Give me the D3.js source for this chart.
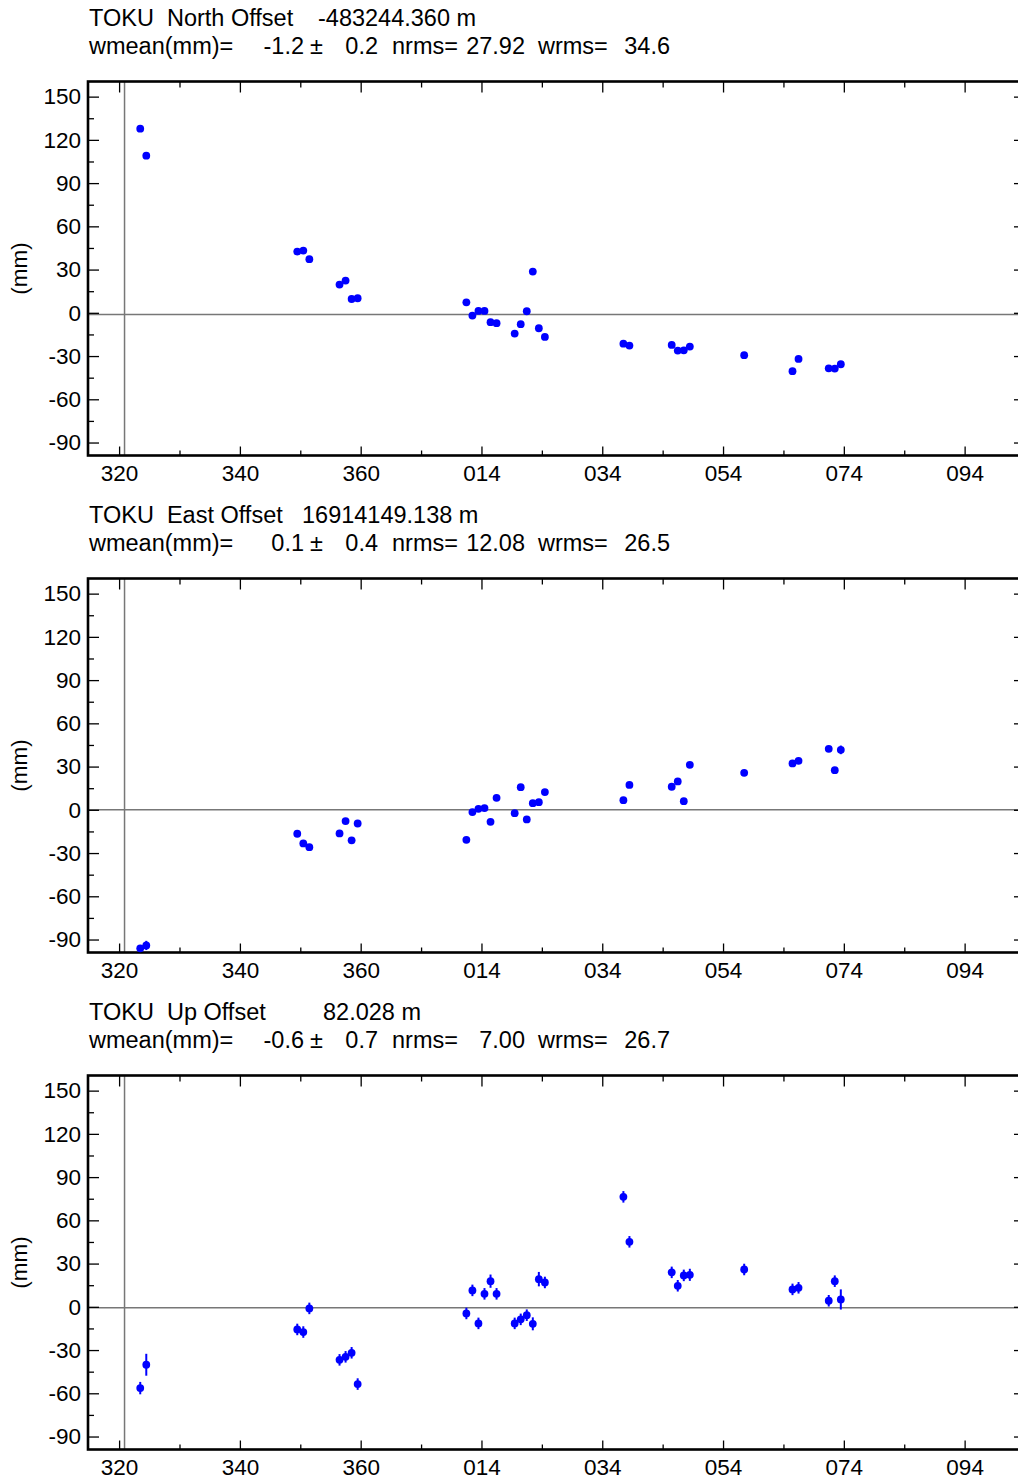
<!DOCTYPE html>
<html>
<head>
<meta charset="utf-8">
<script src="https://cdn.jsdelivr.net/npm/d3@7"></script>
<style>
  html, body { margin: 0; padding: 0; background: #fff; }
  svg { display: block; }
  text { font-family: "Liberation Sans", Arial, Helvetica, sans-serif; fill: #000; }
</style>
</head>
<body>
<svg id="chart" width="1018" height="1482"></svg>
<script>
// ---- data (day of year, continuous past 366 -> next year) ----
const days = [323.5, 324.5, 349.5, 350.5, 351.5, 356.5, 357.5, 358.5, 359.5,
  377.5, 378.5, 379.5, 380.5, 381.5, 382.5, 385.5, 386.5, 387.5, 388.5, 389.5, 390.5,
  403.5, 404.5, 411.5, 412.5, 413.5, 414.5, 423.5, 431.5, 432.5, 437.5, 438.5, 439.5];

const northValues = [127.8, 109.0, 42.5, 43.2, 37.2, 19.6, 22.4, 9.6, 10.1,
  7.3, -1.9, 1.3, 1.3, -6.5, -7.2, -14.4, -7.9, 1.1, 28.6, -10.7, -16.7,
  -21.4, -22.7, -22.3, -26.2, -26.0, -23.4, -29.4, -40.5, -32.0, -38.5, -38.7, -35.7];
const northSigma = [1.5, 1.8, 1.2, 1.2, 1.2, 1.2, 1.2, 1.2, 1.2,
  1.2, 1.2, 1.2, 1.2, 1.2, 1.2, 1.2, 1.2, 1.2, 1.2, 1.2, 1.2,
  1.2, 1.2, 1.2, 1.2, 1.2, 1.2, 1.2, 1.2, 1.2, 1.2, 1.2, 1.8];

const eastValues = [-96.1, -94.1, -16.6, -23.3, -25.9, -16.4, -7.8, -21.2, -9.5,
  -20.8, -1.6, 0.7, 1.2, -8.3, 8.3, -2.3, 15.7, -6.7, 4.6, 5.3, 12.3,
  6.7, 17.3, 16.0, 19.7, 6.0, 31.2, 25.7, 32.2, 34.0, 42.3, 27.5, 41.6];
const eastSigma = [2.0, 3.2, 1.5, 1.5, 1.5, 1.5, 1.5, 1.5, 1.5,
  1.5, 1.5, 1.5, 1.5, 1.5, 1.5, 1.5, 1.5, 1.5, 1.5, 2.2, 1.5,
  1.5, 1.5, 1.5, 1.5, 1.5, 1.5, 1.5, 1.5, 1.8, 1.5, 1.5, 3.0];

const upValues = [-56.4, -40.2, -15.7, -17.5, -1.1, -36.8, -34.7, -31.9, -53.6,
  -4.6, 11.4, -11.5, 9.0, 17.8, 9.0, -11.5, -8.7, -5.8, -11.8, 19.2, 16.9,
  76.3, 45.1, 23.9, 14.6, 21.8, 22.2, 25.9, 12.1, 13.2, 4.2, 17.8, 5.1];
const upSigma = [4.3, 7.6, 4.0, 4.0, 4.0, 4.0, 4.0, 4.0, 4.0,
  4.0, 4.0, 4.0, 4.0, 4.6, 4.0, 4.0, 4.0, 4.0, 4.5, 5.0, 4.0,
  4.0, 4.0, 4.0, 4.0, 4.0, 4.2, 4.0, 4.0, 4.0, 4.0, 4.0, 7.0];

const yMajorTicks = [150, 120, 90, 60, 30, 0, -30, -60, -90];
const yMinorTicks = [135, 105, 75, 45, 15, -15, -45, -75];
const xMajorTicks = [320, 340, 360, 380, 400, 420, 440, 460];
const xTickLabels = ["320", "340", "360", "014", "034", "054", "074", "094"];
const xMinorTicks = [330, 350, 370, 390, 410, 430, 450];

const panelNames = ["TOKU  North Offset", "TOKU  East Offset", "TOKU  Up Offset"];
const panelOffsets = ["-483244.360 m", "16914149.138 m", "82.028 m"];
const wmeans = ["-1.2", "0.1", "-0.6"];
const wmeanErrs = ["0.2", "0.4", "0.7"];
const nrmsVals = ["27.92", "12.08", "7.00"];
const wrmsVals = ["34.6", "26.5", "26.7"];
const wmeanNum = [-1.2, 0.1, -0.6];
const refDay = 320.9;

const series = [
  { values: northValues, sigma: northSigma },
  { values: eastValues, sigma: eastSigma },
  { values: upValues, sigma: upSigma }
];

// ---- layout ----
const svg = d3.select("#chart");
const left = 88, right = 1022;
const panelH = 374, panelStep = 497, firstTop = 81.5;
const offsetX = [318, 302, 323];
const fsT = 23.5;   // header font
const fsA = 22.5;   // axis font

const x = d3.scaleLinear().domain([314.85, 469.5]).range([left, right]);

series.forEach((s, i) => {
  const top = firstTop + i * panelStep;
  const bottom = top + panelH;
  const y = d3.scaleLinear().domain([-99, 160.5]).range([bottom, top]);
  const g = svg.append("g");

  // headers
  const h1 = top - 56;
  const h2 = top - 27.5;
  g.append("text").attr("x", 89).attr("y", h1).attr("font-size", fsT)
    .style("white-space", "pre").text(panelNames[i]);
  g.append("text").attr("x", offsetX[i]).attr("y", h1).attr("font-size", fsT).text(panelOffsets[i]);
  g.append("text").attr("x", 89).attr("y", h2).attr("font-size", fsT).text("wmean(mm)=");
  g.append("text").attr("x", 304).attr("y", h2).attr("font-size", fsT).attr("text-anchor", "end").text(wmeans[i]);
  g.append("text").attr("x", 310).attr("y", h2).attr("font-size", fsT).text("±");
  g.append("text").attr("x", 378).attr("y", h2).attr("font-size", fsT).attr("text-anchor", "end").text(wmeanErrs[i]);
  g.append("text").attr("x", 392).attr("y", h2).attr("font-size", fsT).text("nrms=");
  g.append("text").attr("x", 525).attr("y", h2).attr("font-size", fsT).attr("text-anchor", "end").text(nrmsVals[i]);
  g.append("text").attr("x", 538).attr("y", h2).attr("font-size", fsT).text("wrms=");
  g.append("text").attr("x", 670).attr("y", h2).attr("font-size", fsT).attr("text-anchor", "end").text(wrmsVals[i]);

  // reference lines
  g.append("line").attr("x1", x(refDay)).attr("x2", x(refDay)).attr("y1", top).attr("y2", bottom)
    .attr("stroke", "#777").attr("stroke-width", 1.5);
  g.append("line").attr("x1", left).attr("x2", right).attr("y1", y(wmeanNum[i])).attr("y2", y(wmeanNum[i]))
    .attr("stroke", "#777").attr("stroke-width", 1.5);

  // axes
  const axL = g.append("g").attr("transform", `translate(${left},0)`)
    .call(d3.axisLeft(y).tickValues(yMajorTicks).tickSize(-11).tickPadding(7).tickFormat(d => String(d)));
  axL.selectAll("text").attr("font-size", fsA).attr("font-family", "Liberation Sans, Arial, sans-serif");
  g.append("g").attr("transform", `translate(${left},0)`)
    .call(d3.axisLeft(y).tickValues(yMinorTicks).tickSize(-6).tickFormat(""));
  g.append("g").attr("transform", `translate(${right},0)`)
    .call(d3.axisRight(y).tickValues(yMajorTicks).tickSize(-8).tickFormat(""));

  const axB = g.append("g").attr("transform", `translate(0,${bottom})`)
    .call(d3.axisBottom(x).tickValues(xMajorTicks).tickSize(-9).tickPadding(10)
      .tickFormat((d, k) => xTickLabels[k]));
  axB.selectAll("text").attr("font-size", fsA).attr("font-family", "Liberation Sans, Arial, sans-serif");
  g.append("g").attr("transform", `translate(0,${bottom})`)
    .call(d3.axisBottom(x).tickValues(xMinorTicks).tickSize(-5).tickFormat(""));
  g.append("g").attr("transform", `translate(0,${top})`)
    .call(d3.axisTop(x).tickValues(xMajorTicks).tickSize(-11).tickFormat(""));
  g.append("g").attr("transform", `translate(0,${top})`)
    .call(d3.axisTop(x).tickValues(xMinorTicks).tickSize(-6).tickFormat(""));

  g.selectAll(".domain").remove();
  g.selectAll(".tick line").attr("stroke", "#000").attr("stroke-width", 1.3);

  // frame
  g.append("rect").attr("x", left).attr("y", top).attr("width", right - left).attr("height", panelH)
    .attr("fill", "none").attr("stroke", "#000").attr("stroke-width", 2.6);

  // y label
  g.append("text").attr("transform", `translate(27,${(top + bottom) / 2}) rotate(-90)`)
    .attr("text-anchor", "middle").attr("font-size", fsA).text("(mm)");

  // error bars
  g.selectAll("line.err").data(days).enter().append("line").attr("class", "err")
    .attr("x1", d => x(d)).attr("x2", d => x(d))
    .attr("y1", (d, k) => y(s.values[k] - s.sigma[k]))
    .attr("y2", (d, k) => y(s.values[k] + s.sigma[k]))
    .attr("stroke", "#0000ff").attr("stroke-width", 2);

  // points
  g.selectAll("circle.pt").data(days).enter().append("circle").attr("class", "pt")
    .attr("cx", d => x(d)).attr("cy", (d, k) => y(s.values[k]))
    .attr("r", 3.9).attr("fill", "#0000ff");
});
</script>
</body>
</html>
